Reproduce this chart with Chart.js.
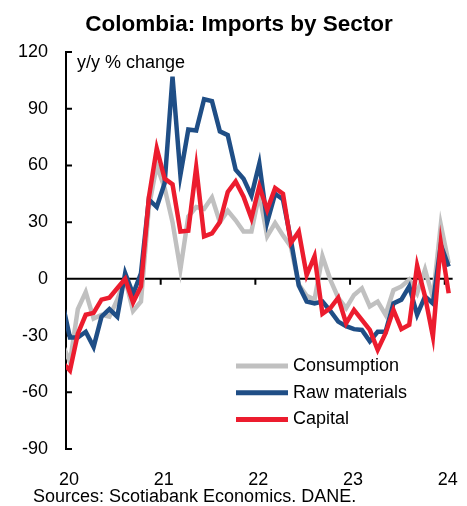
<!DOCTYPE html>
<html>
<head>
<meta charset="utf-8">
<script src="https://cdn.jsdelivr.net/npm/chart.js@4.4.1/dist/chart.umd.min.js"></script>
<style>
  body { margin: 0; background: #fff; }
</style>
</head>
<body>
<canvas id="importsChart" width="467" height="506"></canvas>
<script>
// Monthly y/y % change, Dec-2019 to Jan-2024 (first point sits left of the axis and is clipped)
const months = [
    'Dec-19',
    'Jan-20', 'Feb-20', 'Mar-20', 'Apr-20', 'May-20', 'Jun-20', 'Jul-20', 'Aug-20', 'Sep-20', 'Oct-20', 'Nov-20', 'Dec-20',
    'Jan-21', 'Feb-21', 'Mar-21', 'Apr-21', 'May-21', 'Jun-21', 'Jul-21', 'Aug-21', 'Sep-21', 'Oct-21', 'Nov-21', 'Dec-21',
    'Jan-22', 'Feb-22', 'Mar-22', 'Apr-22', 'May-22', 'Jun-22', 'Jul-22', 'Aug-22', 'Sep-22', 'Oct-22', 'Nov-22', 'Dec-22',
    'Jan-23', 'Feb-23', 'Mar-23', 'Apr-23', 'May-23', 'Jun-23', 'Jul-23', 'Aug-23', 'Sep-23', 'Oct-23', 'Nov-23', 'Dec-23',
    'Jan-24'
];
const consumption = [
    -34,
    -44, -16, -7, -21, -19, -20, -11, 0, -17, -12, 38, 60,
    48, 30, 5, 33, 38, 37, 43, 30, 36, 31, 25, 25,
    45, 22.5, 29.5, 23, 17, -3, -9, -11, 12, -0.5, -10, -15.5,
    -8.5, -5, -14.6, -12, -19, -6, -4, -0.5, -7.6, 5, -10, 28.6,
    8.3
];
const rawMaterials = [
    -12,
    -31, -31, -28, -36, -20, -16, -20, 3, -8, 3, 42, 38,
    50.6, 107, 55, 79, 78.5, 95, 94, 78, 76, 57.7, 53, 44,
    61, 30, 45, 42, 20.6, -3.5, -12, -13, -12, -17, -22.6, -25,
    -26.6, -27, -33, -28, -28, -13, -11, -4, -19, -9.3, -13, 18,
    6.5
];
const capital = [
    -44,
    -48.5, -29, -19, -18, -11, -10, -5, 0, -12.5, -4, 43, 69,
    53, 50, 25, 25.5, 59, 22.5, 24, 30, 46, 51.5, 43.5, 32,
    49, 36.5, 48, 45, 19, 25, 2, 12, -18.5, -15.5, -10, -23.5,
    -16.4, -21.7, -27, -37.6, -28.7, -16.4, -26.6, -24.3, 7, -9.3, -30.5, 19,
    -7.6
];
const yearLabels = ['20', '21', '22', '23', '24'];
const yearStarts = [0, 12, 24, 36, 48];   // months after Jan-2020

// month index i -> middle of that month on a Jan-2020 = 0 axis
const toPoints = vals => vals.map((v, i) => ({ x: i - 0.5, y: v }));

Chart.defaults.font.family = '"Liberation Sans", Arial, sans-serif';
Chart.defaults.color = '#000';

// title, zero line, inward ticks, notes and legend
const extras = {
    id: 'extras',
    beforeDatasetsDraw(chart) {
        const { ctx, chartArea, scales: { x, y } } = chart;
        const y0 = y.getPixelForValue(0);
        ctx.save();
        ctx.strokeStyle = '#000';
        ctx.lineWidth = 2;
        ctx.beginPath();
        ctx.moveTo(chartArea.left, y0);
        ctx.lineTo(chartArea.right, y0);
        yearStarts.forEach(v => {
            const px = x.getPixelForValue(v);
            ctx.moveTo(px, y0);
            ctx.lineTo(px, y0 + 6);
        });
        y.ticks.forEach(t => {
            const py = y.getPixelForValue(t.value);
            ctx.moveTo(chartArea.left, py);
            ctx.lineTo(chartArea.left + 6, py);
        });
        ctx.stroke();
        ctx.restore();
    },
    afterDraw(chart) {
        const { ctx } = chart;
        ctx.save();
        ctx.fillStyle = '#000';
        ctx.textAlign = 'center';
        ctx.textBaseline = 'alphabetic';
        ctx.font = 'bold 22.5px "Liberation Sans", Arial, sans-serif';
        ctx.fillText('Colombia: Imports by Sector', 239, 30.5);

        ctx.font = '18px "Liberation Sans", Arial, sans-serif';
        ctx.textBaseline = 'middle';
        ctx.textAlign = 'left';
        ctx.fillText('y/y % change', 77, 63);
        ctx.fillText('Sources: Scotiabank Economics. DANE.', 33, 497);

        chart.data.datasets.forEach((ds, i) => {
            const ly = 366 + i * 26.7;
            ctx.strokeStyle = ds.borderColor;
            ctx.lineWidth = 5;
            ctx.beginPath();
            ctx.moveTo(236, ly);
            ctx.lineTo(288, ly);
            ctx.stroke();
            ctx.fillText(ds.label, 293, ly);
        });
        ctx.restore();
    }
};

const ctx = document.getElementById('importsChart').getContext('2d');
const importsChart = new Chart(ctx, {
    type: 'line',
    data: {
        datasets: [
            { label: 'Consumption', data: toPoints(consumption), borderColor: '#c0c0c0', order: 3 },
            { label: 'Raw materials', data: toPoints(rawMaterials), borderColor: '#1f4e86', order: 2 },
            { label: 'Capital', data: toPoints(capital), borderColor: '#ec1c2e', order: 1 }
        ]
    },
    options: {
        responsive: false,
        animation: false,
        layout: { padding: { left: 0, right: 12, top: 52, bottom: 7 } },
        elements: {
            line: { borderWidth: 4.5, tension: 0 },
            point: { radius: 0 }
        },
        plugins: {
            legend: { display: false },
            tooltip: { enabled: false },
            title: { display: false }
        },
        scales: {
            x: {
                type: 'linear',
                min: 0,
                max: 49,
                grid: { display: false },
                border: { display: false },
                afterFit: s => { s.height = 50; },
                afterBuildTicks: s => { s.ticks = yearStarts.map(v => ({ value: v })); },
                ticks: {
                    padding: 12,
                    labelOffset: 3,
                    maxRotation: 0,
                    font: { size: 18 },
                    callback: (v, i) => yearLabels[i]
                }
            },
            y: {
                min: -90,
                max: 120,
                grid: { display: false, drawTicks: false },
                border: { display: true, color: '#000', width: 2 },
                afterFit: s => { s.width = 66; },
                ticks: {
                    stepSize: 30,
                    padding: 18,
                    font: { size: 18 }
                }
            }
        }
    },
    plugins: [extras]
});
</script>
</body>
</html>
